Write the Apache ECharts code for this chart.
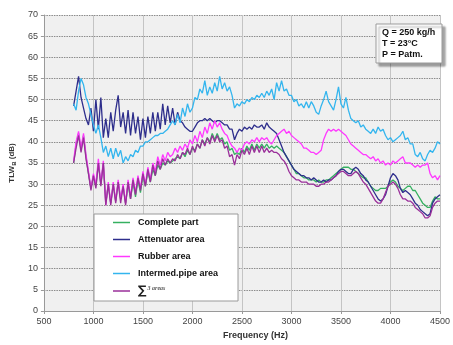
<!DOCTYPE html>
<html>
<head>
<meta charset="utf-8">
<script src="https://cdn.jsdelivr.net/npm/echarts@6/dist/echarts.min.js"></script>
<style>
  html, body { margin: 0; padding: 0; background: #fff; }
  #chart { width: 453px; height: 345px; }
</style>
</head>
<body>
<div id="chart"></div>
<script>
// Sampling grid of the measurement (Hz)
const freqStart = 800;
const freqStep = 25;
const freqCount = 149;
const frequencies = [];
for (let i = 0; i < freqCount; i++) frequencies.push(freqStart + i * freqStep);

// Transmission loss values (dB), one per frequency
const completePart = [
  35, 39.5, 42, 38, 41.5, 36.5, 32.5, 29, 32, 29.5, 35, 30, 35, 25.5, 30, 25.5, 30, 26, 30.5, 26.5,
  29.5, 25.5, 30, 26.5, 30.5, 27, 31, 28, 32, 29.5, 33, 30.5, 33.5, 32, 34.5, 33.5, 35, 34.5, 35.5, 35,
  35.5, 36, 36.5, 36, 37.5, 36.5, 38, 37, 38.5, 38, 39.5, 38.5, 40.5, 39.5, 41, 40, 42, 40.5, 42, 40.5,
  41, 39.5, 40, 38, 38.5, 37, 37.5, 37, 38.5, 37.5, 39, 38, 39.5, 38, 39.5, 38.5, 39.5, 38.5, 39.5, 38.5,
  39, 38.5, 39, 38.5, 38, 37.5, 36.5, 35.5, 34.5, 33.5, 32.5, 32.5, 32, 31.5, 31.5, 31, 31, 31, 30.5, 31,
  30.5, 30.5, 31, 31, 31.5, 32, 32.5, 33, 33.5, 34, 34, 34, 33.5, 33.5, 33, 32.5, 32, 31.5, 31.5, 30.5,
  29.5, 29, 28.5, 28.5, 29, 29, 29, 29.5, 30.5, 31, 30.5, 29.5, 29, 28.5, 29, 29.5, 29.5, 28.5, 28.5, 27.5,
  26.5, 25.5, 25, 24.5, 24.5, 26, 27, 26.5, 26.5
];
const attenuatorArea = [
  48.5, 52, 55.5, 50.5, 48, 45.5, 44, 48, 42.5, 50, 43, 50.5, 41, 45.5, 41, 47, 42.5, 47.5, 51, 43.5,
  47, 42, 47.5, 41.5, 47, 42, 46, 40.5, 45.5, 41, 46, 42, 47, 42.5, 47, 43, 49, 44, 48.5, 44.5,
  48, 44, 47, 45, 44.5, 43.5, 43, 42.5, 42.5, 43.5, 44.5, 45, 45, 45.5, 45, 45.5, 45, 44.5, 45, 45,
  44.5, 44, 44, 43, 43, 40.5, 42, 43, 42.5, 43.5, 43, 43.5, 43, 44, 43.5, 43.5, 44, 43, 44.5, 43.5,
  43, 42.5, 42, 40.5, 39, 37.5, 36.5, 35.5, 34.5, 33.5, 33, 32.5, 32, 32, 31.5, 31.5, 31, 31.5, 31, 30.5,
  30.5, 31, 30.5, 31, 31, 31.5, 32, 33, 33.5, 33.5, 33, 32.5, 32.5, 33.5, 34, 33.5, 32.5, 32, 31, 30.5,
  29.5, 28.5, 27.5, 26.5, 26, 26.5, 27.5, 29.5, 31.5, 32.5, 32, 31, 29, 28, 28.5, 28, 27.5, 26.5, 25.5, 25,
  24, 23.5, 23, 22.5, 23, 25.5, 26.5, 27, 27.5
];
const rubberArea = [
  35.5, 40, 42.5, 38.5, 42, 37, 33, 29, 32.5, 30, 36, 30, 35.5, 25, 30.5, 25.5, 30.5, 26, 31, 26.5,
  30, 25.5, 31, 27, 31.5, 28, 32, 29, 33, 30, 34, 31, 35, 33, 36.5, 34.5, 37, 35.5, 37.5, 36.5,
  37, 38.5, 37.5, 39, 38, 39.5, 38.5, 40.5, 39.5, 41.5, 40, 42.5, 41, 43.5, 42, 44.5, 43, 45, 43.5, 44.5,
  43, 42, 41.5, 40, 39, 38.5, 37.5, 38.5, 38, 39.5, 40, 39.5, 40.5, 40, 41, 40, 41, 40.5, 41, 40,
  39.5, 40.5, 41.5, 42, 42.5, 43, 42, 42.5, 41.5, 41, 40.5, 40, 39.5, 38.5, 38.5, 38, 37.5, 37.5, 37, 37.5,
  38, 40.5, 42, 43, 42.5, 43, 42.5, 43, 42.5, 42, 41.5, 40.5, 39.5, 39, 38.5, 38, 37.5, 37, 37, 36.5,
  36, 36.5, 35.5, 36, 35, 35.5, 34.5, 35, 34.5, 35.5, 35, 35.5, 36, 36.5, 35, 35, 35, 34.5, 34, 34.5,
  34, 34.5, 34.5, 35, 32.5, 31.5, 32, 31, 32
];
const intermedPipeArea = [
  49, 47.5, 52, 55, 53.5, 50.5, 49, 46.5, 44, 42, 44, 41, 37.5, 39, 36.5, 38.5, 36, 38.5, 36.5, 38,
  35, 36.5, 35.5, 37, 36.5, 38, 37.5, 39, 39, 40, 40, 40.5, 41, 41.5, 41.5, 42, 42, 42.5, 43, 44,
  45, 44, 46.5, 44.5, 48, 46, 49, 47, 48, 50.5, 50, 52.5, 51.5, 54.5, 51, 53, 51.5, 54, 52, 55.5,
  52.5, 54, 52, 53, 51, 48, 49, 48.5, 49.5, 49, 50, 49.5, 50.5, 50, 51, 50.5, 51.5, 50.5, 52, 51,
  52.5, 50, 54, 52, 54.5, 52, 52.5, 51, 51, 49.5, 50, 48.5, 49, 48, 49.5, 48, 49.5, 48.5, 47, 46.5,
  48.5, 50, 52, 49.5, 48.5, 47.5, 50, 53, 49, 48, 50.5, 47.5, 45.5, 45, 44.5, 45, 43.5, 44, 43, 42.5,
  42, 43, 42, 43.5, 42.5, 43, 41.5, 40.5, 41, 40, 40.5, 41, 41.5, 42.5, 40.5, 41, 39.5, 39.5, 37, 36.5,
  37.5, 36, 35.5, 37, 38, 37.5, 38.5, 40, 39.5
];
const sumThreeAreas = [
  35, 38.5, 41.5, 37.5, 41, 36, 32.5, 28.5, 32, 29, 35, 29.5, 35, 25, 30, 25, 30, 25.5, 30.5, 25.5,
  29.5, 25, 30.5, 26.5, 31, 27.5, 31.5, 28.5, 32.5, 29.5, 33.5, 30.5, 34.5, 32, 35.5, 33.5, 36, 34.5, 36, 35,
  36, 35.5, 37, 36, 37.5, 37, 38.5, 37, 39, 37.5, 39.5, 38.5, 40.5, 39, 41, 39.5, 41.5, 40, 41.5, 40,
  40.5, 38.5, 39, 36.5, 37, 34.5, 37, 36, 38, 37, 38.5, 37, 39, 37.5, 39, 37.5, 39, 37.5, 38.5, 37.5,
  38, 37.5, 37.5, 37, 36, 35.5, 34.5, 33, 32, 31.5, 31, 31, 30.5, 30.5, 30.5, 30, 30, 30, 29.5, 29.5,
  30, 30, 30.5, 30.5, 31, 31.5, 32, 32.5, 33, 33, 32.5, 32, 32, 32.5, 33, 32.5, 31.5, 30.5, 30, 29,
  28, 27, 26, 25.5, 25.5, 26.5, 28, 29.5, 30, 30.5, 30, 29, 27.5, 26.5, 26.5, 26, 26, 25.5, 24.5, 24,
  23.5, 23, 22, 22, 22.5, 24.5, 25.5, 26, 26
];

const seriesNames = ['Complete part', 'Attenuator area', 'Rubber area', 'Intermed.pipe area', '\u2211 3 areas'];
const seriesColors = ['#35b060', '#2e2e8c', '#ff38ff', '#33b5ee', '#9a2f9a'];
const seriesValues = [completePart, attenuatorArea, rubberArea, intermedPipeArea, sumThreeAreas];

const conditionLines = ['Q = 250 kg/h', 'T = 23\u00b0C', 'P = Patm.'];

const FONT = 'Liberation Sans, Arial, sans-serif';

const chart = echarts.init(document.getElementById('chart'), null, { renderer: 'canvas' });

const series = seriesNames.map((name, k) => ({
  name: name,
  type: 'line',
  data: frequencies.map((f, i) => [f, seriesValues[k][i]]),
  symbol: 'none',
  showSymbol: false,
  lineStyle: { color: seriesColors[k], width: 1.3 },
  itemStyle: { color: seriesColors[k] },
  emphasis: { disabled: true },
  animation: false
}));

chart.setOption({
  animation: false,
  backgroundColor: '#ffffff',
  textStyle: { fontFamily: FONT },
  grid: {
    left: 40, right: 8, top: 15, bottom: 29,
    show: true, backgroundColor: '#f0f0f0', borderWidth: 0
  },
  xAxis: {
    type: 'value', min: 500, max: 4500, interval: 500,
    name: 'Frequency (Hz)', nameLocation: 'middle', nameGap: 20,
    nameTextStyle: { fontFamily: FONT, fontSize: 9, fontWeight: 'bold', color: '#333', padding: [0, 0, 0, 27] },
    axisLine: { show: true, lineStyle: { color: '#999', width: 1 } },
    axisTick: { show: true, length: 3, lineStyle: { color: '#999' } },
    axisLabel: { fontFamily: FONT, fontSize: 9, color: '#444', margin: 6, formatter: v => String(v) },
    splitLine: { show: true, lineStyle: { color: '#c4c4c4', width: 1, type: 'solid' } }
  },
  yAxis: {
    type: 'value', min: 0, max: 70, interval: 5,
    name: '{a|TLW}{b|B}{a| (dB)}', nameLocation: 'middle', nameGap: 22,
    nameTextStyle: {
      padding: [0, 0, 0, 0],
      rich: {
        a: { fontFamily: FONT, fontSize: 8, fontWeight: 'bold', color: '#333' },
        b: { fontFamily: FONT, fontSize: 6, fontWeight: 'bold', color: '#333', verticalAlign: 'bottom', padding: [4, 0, 0, 0] }
      }
    },
    axisLine: { show: true, lineStyle: { color: '#999', width: 1 } },
    axisTick: { show: true, length: 3, lineStyle: { color: '#999' } },
    axisLabel: { fontFamily: FONT, fontSize: 9, color: '#444', margin: 6 },
    splitLine: { show: true, lineStyle: { color: '#8a8a8a', width: 1, type: [1.5, 1] } }
  },
  legend: {
    orient: 'vertical', left: 94, top: 214,
    padding: [3, 20, 4, 19],
    backgroundColor: '#ffffff', borderColor: '#9a9a9a', borderWidth: 1, borderRadius: 0,
    icon: 'rect',
    itemWidth: 17, itemHeight: 1.5, itemGap: 6,
    selectedMode: false,
    data: seriesNames,
    formatter: function (name) {
      if (name === seriesNames[4]) return '{s|\u2211}{t|3 areas}';
      return name;
    },
    textStyle: {
      fontFamily: FONT, fontSize: 9, fontWeight: 'bold', color: '#111',
      padding: [0, 0, 0, 3], lineHeight: 11,
      rich: {
        s: { fontFamily: 'DejaVu Sans, sans-serif', fontSize: 12, color: '#222', lineHeight: 12 },
        t: { fontFamily: 'Liberation Serif, serif', fontSize: 6, fontStyle: 'italic', color: '#555', verticalAlign: 'top', padding: [0, 0, 4, 1] }
      }
    }
  },
  graphic: [
    {
      type: 'rect', z: 100,
      shape: { x: 376, y: 24, width: 66, height: 39 },
      style: { fill: '#ffffff', stroke: '#9a9a9a', lineWidth: 1, shadowColor: 'rgba(0,0,0,0.35)', shadowOffsetX: 3, shadowOffsetY: 3, shadowBlur: 2 }
    },
    {
      type: 'text', z: 101, left: 382, top: 27,
      style: {
        text: conditionLines.join('\n'),
        font: 'bold 9px Liberation Sans, Arial, sans-serif',
        fill: '#111', lineHeight: 11
      }
    }
  ],
  series: series
});
</script>
</body>
</html>
